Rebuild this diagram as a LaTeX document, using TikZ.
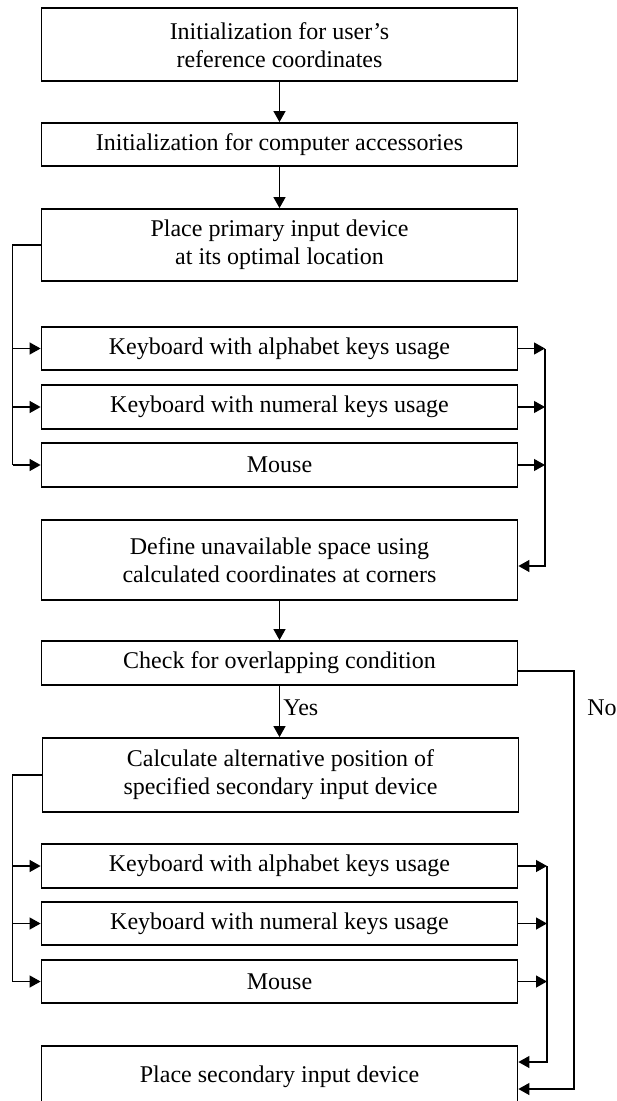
\documentclass[tikz,border=0pt]{standalone}
\usepackage{fontspec}
\setmainfont{Liberation Serif}
\usetikzlibrary{arrows.meta}
\tikzset{
  blk/.style={draw, line width=0.9pt, minimum width=238pt, inner sep=0pt, align=center, font=\fontsize{12}{14}\selectfont},
  lnk/.style={line width=0.6pt, -{Triangle[length=5.5pt,width=6pt]}},
  bus/.style={line width=0.6pt},
  lbl/.style={inner sep=0pt, font=\fontsize{12}{14}\selectfont}
}
\begin{document}
\begin{tikzpicture}[x=0.5pt,y=0.5pt,yscale=-1]
\useasboundingbox (0,0) rectangle (616,1101);

%Shape: Rectangle [usr]
\node[blk, minimum height=36.5pt] (usr) at (279.5,44.75) {Initialization for user's\\reference coordinates};
%Shape: Rectangle [acc]
\node[blk, minimum height=21.5pt] (acc) at (279.5,144.5) {Initialization for computer accessories};
%Shape: Rectangle [place]
\node[blk, minimum height=36pt] (place) at (279.5,245) {Place primary input device\\at its optimal location};
%Shape: Rectangle [alphaA]
\node[blk, minimum height=21.5pt] (alphaA) at (279.5,348.5) {Keyboard with alphabet keys usage};
%Shape: Rectangle [numA]
\node[blk, minimum height=22pt] (numA) at (279.5,407) {Keyboard with numeral keys usage};
%Shape: Rectangle [mouseA]
\node[blk, minimum height=22pt] (mouseA) at (279.5,465) {Mouse};
%Shape: Rectangle [define]
\node[blk, minimum height=40pt] (define) at (279.5,560) {Define unavailable space using\\calculated coordinates at corners};
%Shape: Rectangle [check]
\node[blk, minimum height=22pt] (check) at (279.5,663) {Check for overlapping condition};
%Shape: Rectangle [calc]
\node[blk, minimum height=37pt] (calc) at (280.5,775) {Calculate alternative position of\\specified secondary input device};
%Shape: Rectangle [alphaB]
\node[blk, minimum height=22pt] (alphaB) at (279.5,866) {Keyboard with alphabet keys usage};
%Shape: Rectangle [numB]
\node[blk, minimum height=21.5pt] (numB) at (279.5,923.5) {Keyboard with numeral keys usage};
%Shape: Rectangle [mouseB]
\node[blk, minimum height=21.5pt] (mouseB) at (279.5,981.5) {Mouse};
%Shape: Rectangle [final]
\node[blk, minimum height=31pt] (final) at (279.5,1077) {Place secondary input device};

% bus lines
\coordinate (lbus) at (12.5,0);
\coordinate (rbusA) at (545,0);
\coordinate (rbusB) at (547,0);
\coordinate (nobus) at (574,0);

%Straight Lines
\draw[lnk] (usr.south) -- (acc.north);
\draw[lnk] (acc.south) -- (place.north);
\draw[lnk] (define.south) -- (check.north);
\draw[lnk] (check.south) -- (check.south |- calc.north);

%Straight Lines: primary devices
\draw[bus] (place.west) -| (lbus |- mouseA.west);
\foreach \n in {alphaA,numA,mouseA}
  \draw[lnk] (lbus |- \n.west) -- (\n.west);
\foreach \n in {alphaA,numA,mouseA}
  \draw[lnk] (\n.east) -- (\n.east -| rbusA);
\draw[lnk] (alphaA.east -| rbusA) |- ([yshift=3pt]define.east);

%Straight Lines: secondary devices
\draw[bus] (calc.west) -| (lbus |- mouseB.west);
\foreach \n in {alphaB,numB,mouseB}
  \draw[lnk] (lbus |- \n.west) -- (\n.west);
\foreach \n in {alphaB,numB,mouseB}
  \draw[lnk] (\n.east) -- (\n.east -| rbusB);
\draw[lnk] (alphaB.east -| rbusB) |- ([yshift=-7.5pt]final.east);

%Straight Lines: no overlap
\draw[lnk] ([yshift=4pt]check.east) -| ([yshift=6pt]final.east -| nobus) -- ([yshift=6pt]final.east);

% Text Node
\node[lbl, anchor=west] (yes) at (283,708) {Yes};
% Text Node
\node[lbl, anchor=west] (no) at (587,708) {No};

\end{tikzpicture}
\end{document}
